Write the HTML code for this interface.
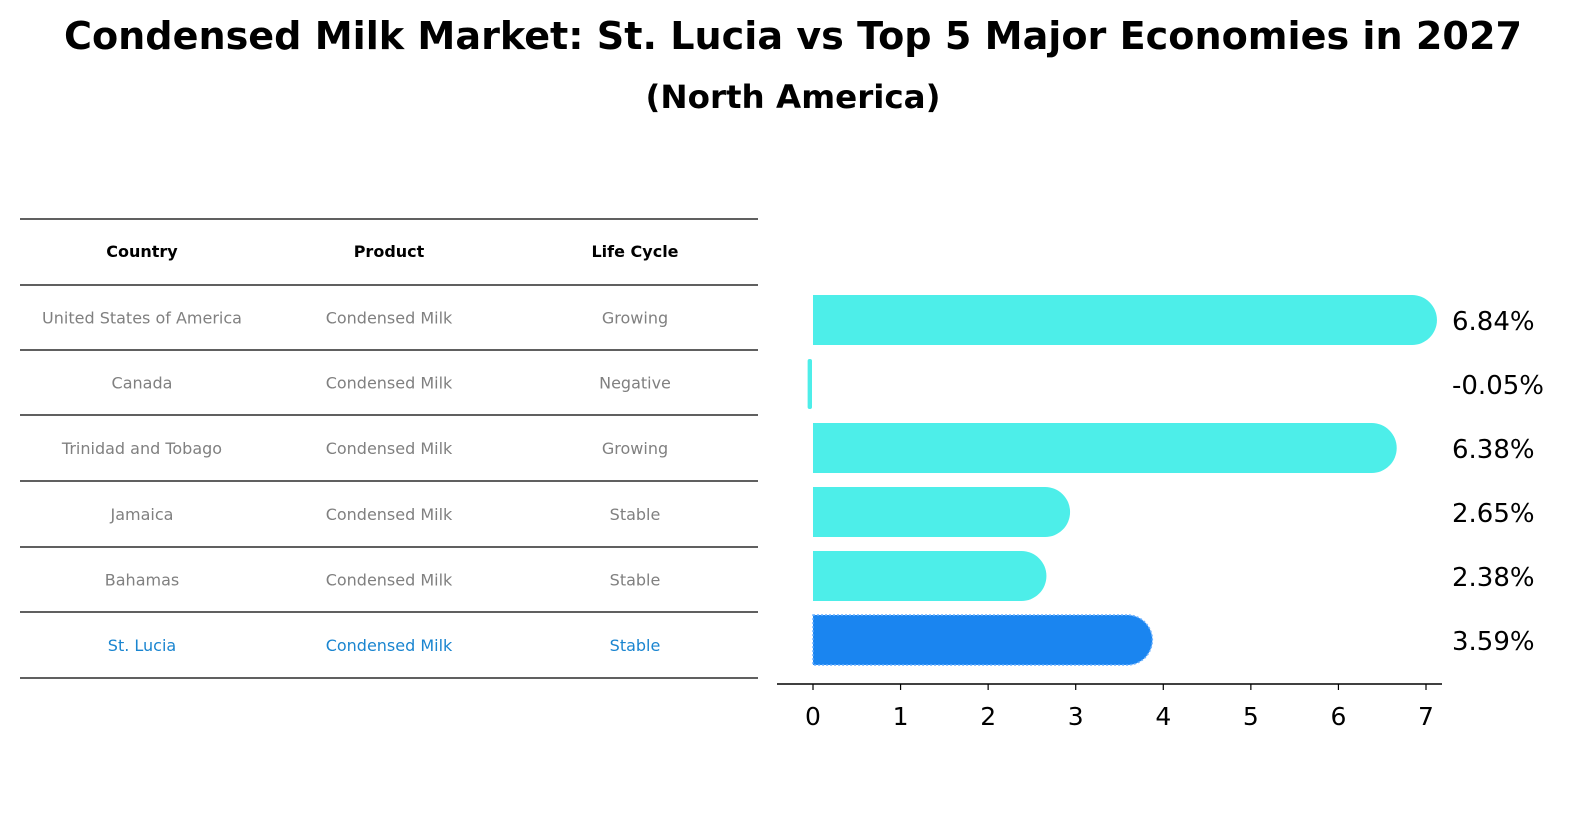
<!DOCTYPE html>
<html><head><meta charset="utf-8"><style>
body{margin:0;background:#fff;font-family:"Liberation Sans","DejaVu Sans",sans-serif;}
#wrap{position:relative;width:1596px;height:823px;overflow:hidden;}
</style></head><body>
<div id="wrap">
<svg id="svg" width="1596" height="823" xmlns="http://www.w3.org/2000/svg">
<text x="793" y="49" text-anchor="middle" font-family="DejaVu Sans, sans-serif" font-weight="bold" font-size="38" textLength="1458" lengthAdjust="spacingAndGlyphs">Condensed Milk Market: St. Lucia vs Top 5 Major Economies in 2027</text>
<text x="793" y="108" text-anchor="middle" font-family="DejaVu Sans, sans-serif" font-weight="bold" font-size="32" textLength="295" lengthAdjust="spacingAndGlyphs">(North America)</text>
<g id="table"></g>
<g id="bars"></g>
</svg>
</div>
<script>
const countries=["United States of America","Canada","Trinidad and Tobago","Jamaica","Bahamas","St. Lucia"];
const products=["Condensed Milk","Condensed Milk","Condensed Milk","Condensed Milk","Condensed Milk","Condensed Milk"];
const lifecycle=["Growing","Negative","Growing","Stable","Stable","Stable"];
const values=[6.84,-0.05,6.38,2.65,2.38,3.59];
const ticks=[0,1,2,3,4,5,6,7];
const NS="http://www.w3.org/2000/svg";
function mk(t,a,p){const e=document.createElementNS(NS,t);for(const k in a)e.setAttribute(k,a[k]);p.appendChild(e);return e;}
const tb=document.getElementById('table');
const lineY=[219,285,350,415,481,547,612,678];
lineY.forEach((y,i)=>{const l=mk('line',{x1:20,x2:758,y1:y,y2:y,stroke:'#000','stroke-width':1.2},tb);

});
const colX=[142,389,635];
["Country","Product","Life Cycle"].forEach((h,i)=>{const t=mk('text',{x:colX[i],y:257,'text-anchor':'middle','font-size':16,'font-weight':'bold','font-family':'DejaVu Sans, sans-serif'},tb);t.textContent=h;

});
countries.forEach((c,r)=>{const y=(lineY[r+1]+lineY[r+2])/2+6;const col=r===countries.length-1?'#1a85d0':'#808080';
[c,products[r],lifecycle[r]].forEach((v,i)=>{const t=mk('text',{x:colX[i],y:y,'text-anchor':'middle','font-size':16,fill:col,'font-family':'DejaVu Sans, sans-serif'},tb);t.textContent=v;

});});
const bg=document.getElementById('bars');
const x0=813,pxu=(1426-813)/7;
const xs=v=>x0+v*pxu;
const rowY=r=>320+r*64;
const bh=50;
values.forEach((v,r)=>{
  const y=rowY(r);const hl=r===values.length-1;const col=hl?'#1a85f0':'#4deee9';
  let el;
  if(v>0){
    const xe=xs(v);
    el=mk('path',{d:`M${x0},${y-bh/2} H${xe} A${bh/2},${bh/2} 0 0 1 ${xe},${y+bh/2} H${x0} Z`,fill:col},bg);
    if(hl){el.setAttribute('stroke','#6ab0ff');el.setAttribute('stroke-dasharray','2,2');el.setAttribute('stroke-width','1.5');}
  } else {
    el=mk('rect',{x:xs(v)-1,y:y-bh/2,width:Math.max(4,x0-xs(v)),height:bh,fill:col,rx:2},bg);
  }
  
  
  const t=mk('text',{x:1452,y:y+10,'font-size':26,'font-family':'DejaVu Sans, sans-serif'},bg);
  t.textContent=v.toFixed(2)+'%';
  
  
});
const ax=mk('line',{x1:777,x2:1442,y1:684,y2:684,stroke:'#000','stroke-width':1.5},bg);


ticks.forEach(tv=>{const x=xs(tv);
const tk=mk('line',{x1:x,x2:x,y1:684,y2:690,stroke:'#000','stroke-width':1.2},bg);


const t=mk('text',{x:x,y:725,'text-anchor':'middle','font-size':25,'font-family':'DejaVu Sans, sans-serif'},bg);t.textContent=tv;

});
</script>
</body></html>
